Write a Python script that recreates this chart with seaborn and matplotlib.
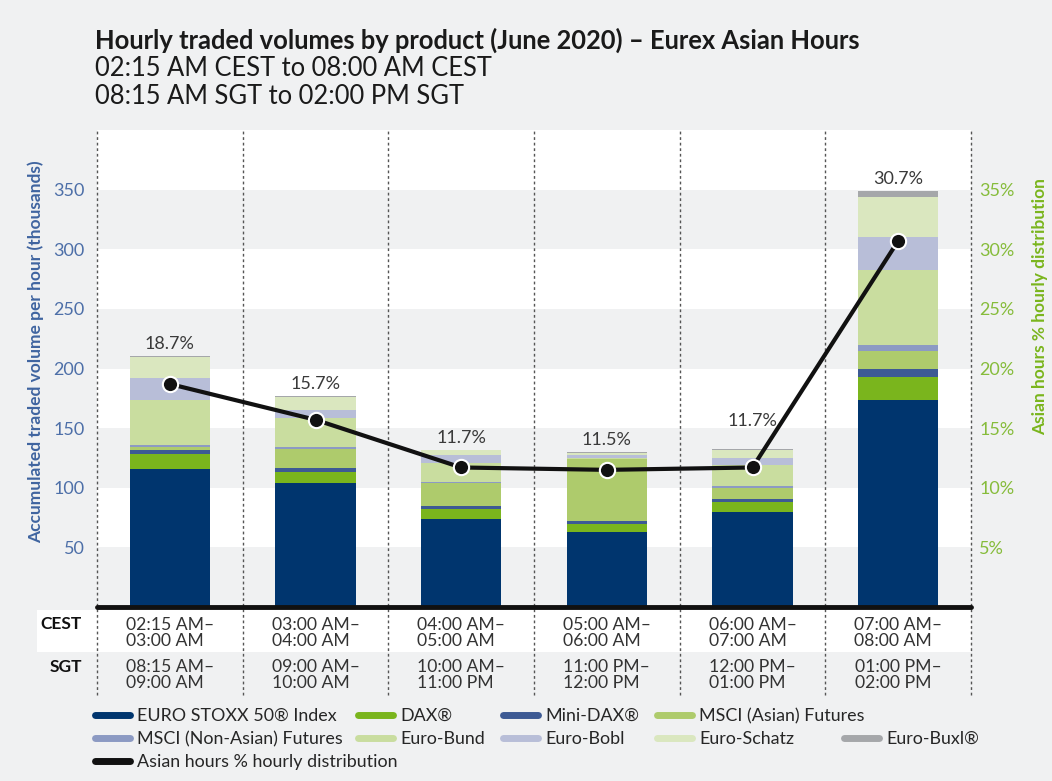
import numpy as np
import pandas as pd
import matplotlib
matplotlib.use('Agg')
import matplotlib.pyplot as plt
import matplotlib.transforms as mtransforms
from matplotlib.lines import Line2D
from matplotlib.patches import Rectangle
import seaborn as sns


# data (thousands of contracts per hour)
cest_labels = ['02:15 AM–\n03:00 AM', '03:00 AM–\n04:00 AM', '04:00 AM–\n05:00 AM',
               '05:00 AM–\n06:00 AM', '06:00 AM–\n07:00 AM', '07:00 AM–\n08:00 AM']
sgt_labels = ['08:15 AM–\n09:00 AM', '09:00 AM–\n10:00 AM', '10:00 AM–\n11:00 PM',
              '11:00 PM–\n12:00 PM', '12:00 PM–\n01:00 PM', '01:00 PM–\n02:00 PM']
products = ['EURO STOXX 50® Index', 'DAX®', 'Mini-DAX®', 'MSCI (Asian) Futures',
            'MSCI (Non-Asian) Futures', 'Euro-Bund', 'Euro-Bobl', 'Euro-Schatz', 'Euro-Buxl®']

euro_stoxx = [116, 104, 74, 63, 80, 174]
dax = [12.5, 9.3, 8.5, 7, 8.4, 19]
mini_dax = [2.8, 3.6, 2, 2.5, 2.5, 7]
msci_asian = [3, 16, 19.6, 51.3, 9.2, 14.6]
msci_non_asian = [1.5, 1, 1, 0.5, 1, 5]
euro_bund = [37.5, 25, 15.8, 1, 18, 63]
euro_bobl = [19, 6.5, 6.5, 2, 5.5, 27.5]
euro_schatz = [17, 10.3, 4, 2, 7, 34]
euro_buxl = [1.3, 1, 0.5, 0.5, 0.5, 5]
pct = [18.7, 15.7, 11.7, 11.5, 11.7, 30.7]

colors = ['#00356E', '#7AB51D', '#3D5A94', '#AECB6C', '#8C9AC3',
          '#C9DD9F', '#B8BED8', '#DAE7BF', '#A5A7AA']
label_pad = [3, 3, 3, 3, 15, 3]

sns.set_theme(style='white')
plt.rcParams['font.family'] = ['Lato', 'DejaVu Sans']

bg = '#F0F1F2'
W, H = 1052, 781
fig = plt.figure(figsize=(10.52, 7.81), dpi=100, facecolor=bg)
ax = fig.add_axes([97 / W, 1 - 607 / H, 874 / W, 477 / H])
ax.set_facecolor('white')
for lo in range(0, 400, 100):
    ax.axhspan(lo, lo + 50, color=bg, lw=0, zorder=0)

layers = [euro_stoxx, dax, mini_dax, msci_asian, msci_non_asian,
          euro_bund, euro_bobl, euro_schatz, euro_buxl]
df = pd.DataFrame(dict(zip(products, layers)))
cum = df[products].cumsum(axis=1)

# stacked bars: draw cumulative heights from the top layer down
for name, col in reversed(list(zip(products, colors))):
    sns.barplot(x=df.index, y=cum[name], color=col, width=0.55, saturation=1,
                errorbar=None, linewidth=0, ax=ax, zorder=2)

ax.set_xlim(-0.5, 5.5)
ax.set_ylim(0, 400)
ax.set_xticks([])
ax.set_xlabel('')
ax.set_yticks(range(50, 351, 50))
ax.tick_params(axis='y', length=0, pad=9, labelsize=13, labelcolor='#4D6FA8')
ax.set_ylabel('Accumulated traded volume per hour (thousands)', fontsize=12.5,
              color='#3F64A0', fontweight='bold')
ax.yaxis.set_label_coords(-0.061, 0.536)
sns.despine(ax=ax, left=True, bottom=True)

ax.axhline(0, color='#111111', lw=3.5, zorder=4, clip_on=False)
ax.vlines(np.arange(-0.5, 6, 1), -0.1845, 1, transform=ax.get_xaxis_transform(),
          colors='#555555', linestyles=(0, (2, 2)), lw=1, clip_on=False, zorder=1)

totals = cum[products[-1]]
for i, (t, p) in enumerate(zip(totals, pct)):
    ax.annotate(f'{p}%', (i, t), xytext=(0, label_pad[i]), textcoords='offset points',
                ha='center', va='bottom', fontsize=13, color='#3A3A3A')

ax2 = ax.twinx()
sns.lineplot(x=np.arange(len(pct)), y=pct, ax=ax2, color='#111111', lw=3, marker='o',
             markersize=11, markeredgecolor='white', markeredgewidth=1.5, zorder=5)
ax2.set_ylim(0, 40)
ax2.set_yticks(range(5, 36, 5))
ax2.set_yticklabels([f'{v}%' for v in range(5, 36, 5)])
ax2.tick_params(axis='y', length=0, pad=6, labelsize=13, labelcolor='#86BC3B')
ax2.set_ylabel('Asian hours % hourly distribution', fontsize=12.5, color='#7AB51D',
               fontweight='bold')
ax2.yaxis.set_label_coords(1.0698, 0.629)
sns.despine(ax=ax2, left=True, bottom=True, right=True)

# time table under the bars
fig.add_artist(Rectangle((37 / W, 1 - 652 / H), 934 / W, 42 / H, transform=fig.transFigure,
                         facecolor='white', edgecolor='none', zorder=-1))
trans = mtransforms.blended_transform_factory(ax.transData, fig.transFigure)
for i, (c, s) in enumerate(zip(cest_labels, sgt_labels)):
    ax.text(i, 1 - 633 / H, c, transform=trans, ha='center', va='center',
            multialignment='left', fontsize=12.7, color='#333333', linespacing=1.0)
    ax.text(i, 1 - 675 / H, s, transform=trans, ha='center', va='center',
            multialignment='left', fontsize=12.7, color='#333333', linespacing=1.0)
fig.text(82 / W, 1 - 624 / H, 'CEST', ha='right', va='center', fontsize=12.5,
         fontweight='bold', color='#111111')
fig.text(82 / W, 1 - 667 / H, 'SGT', ha='right', va='center', fontsize=12.5,
         fontweight='bold', color='#111111')

# titles
fig.text(95 / W, 1 - 40 / H, 'Hourly traded volumes by product (June 2020) – Eurex Asian Hours',
         fontsize=18.4, fontweight='bold', color='#1A1A1A', va='center')
fig.text(95 / W, 1 - 68 / H, '02:15 AM CEST to 08:00 AM CEST', fontsize=18.4,
         color='#1A1A1A', va='center')
fig.text(95 / W, 1 - 96 / H, '08:15 AM SGT to 02:00 PM SGT', fontsize=18.4,
         color='#1A1A1A', va='center')

# legend: one small legend per column, as in the original layout
def h(c):
    return Line2D([], [], color=c, lw=5)

blank = Line2D([], [], alpha=0)
legend_cols = [
    ([h(colors[0]), h(colors[4]), h('#111111')],
     [products[0], products[4], 'Asian hours % hourly distribution']),
    ([h(colors[1]), h(colors[5])], [products[1], products[5]]),
    ([h(colors[2]), h(colors[6])], [products[2], products[6]]),
    ([h(colors[3]), h(colors[7])], [products[3], products[7]]),
    ([blank, h(colors[8])], ['', products[8]]),
]
col_x = [95, 358, 503, 657, 844]
for x, (hs, ls) in zip(col_x, legend_cols):
    fig.legend(hs, ls, loc='upper left', bbox_to_anchor=(x / W, 1 - 708 / H),
               frameon=False, fontsize=12.9, handlelength=1.95, handletextpad=0.4,
               labelspacing=0.39, borderaxespad=0, borderpad=0)

fig.savefig('out.png', dpi=100, facecolor=bg)
